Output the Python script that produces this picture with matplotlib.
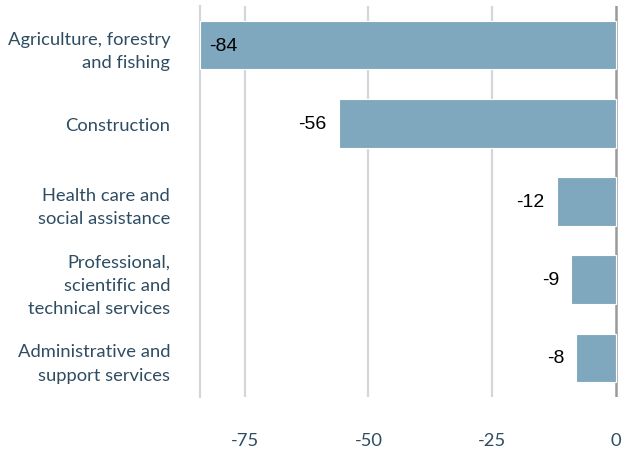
import matplotlib
matplotlib.use("Agg")
import matplotlib.pyplot as plt

categories = ["Agriculture, forestry\nand fishing", "Construction",
              "Health care and\nsocial assistance",
              "Professional,\nscientific and\ntechnical services",
              "Administrative and\nsupport services"]
values = [-84, -56, -12, -9, -8]
xticks = [-75, -50, -25, 0]
xtick_labels = ["-75", "-50", "-25", "0"]

label_color = "#2e4d63"
bar_color = "#7fa8bf"
grid_color = "#d3d7db"

fig = plt.figure(figsize=(6.23, 4.52), dpi=100)
ax = fig.add_axes([200/623, 1-398/452, 419/623, 391/452])

y = list(range(len(categories)))
ax.barh(y, values, height=0.62, color=bar_color, edgecolor="white", linewidth=0.8, zorder=3)

ax.set_xlim(-84, 0.6)
ax.set_ylim(len(categories) - 0.5, -0.5)

ax.set_xticks(xticks)
ax.set_xticklabels(xtick_labels)
ax.set_yticks(y)
ax.set_yticklabels(categories, ha="right", linespacing=1.55)

for lab in ax.get_yticklabels() + ax.get_xticklabels():
    lab.set_fontfamily("Lato")
    lab.set_fontsize(13.2)
    lab.set_color(label_color)

ax.tick_params(axis="y", length=0, pad=21.5)
ax.tick_params(axis="x", length=0, pad=25)

for t in [-75, -50, -25]:
    ax.axvline(t, color=grid_color, linewidth=1.6, zorder=1)
ax.axvline(0, color="#9a9a9a", linewidth=1.8, zorder=1)

for s in ["top", "right", "bottom"]:
    ax.spines[s].set_visible(False)
ax.spines["left"].set_color(grid_color)
ax.spines["left"].set_linewidth(1.6)

vmin = min(values)
for yi, v in zip(y, values):
    if v == vmin:
        ax.text(v + 1.8, yi, f"{v}", ha="left", va="center", fontsize=14,
                family="Liberation Sans", color="black", zorder=4)
    else:
        ax.text(v - 2.4, yi, f"{v}", ha="right", va="center", fontsize=14,
                family="Liberation Sans", color="black", zorder=4)

fig.savefig("out.png", dpi=100)
